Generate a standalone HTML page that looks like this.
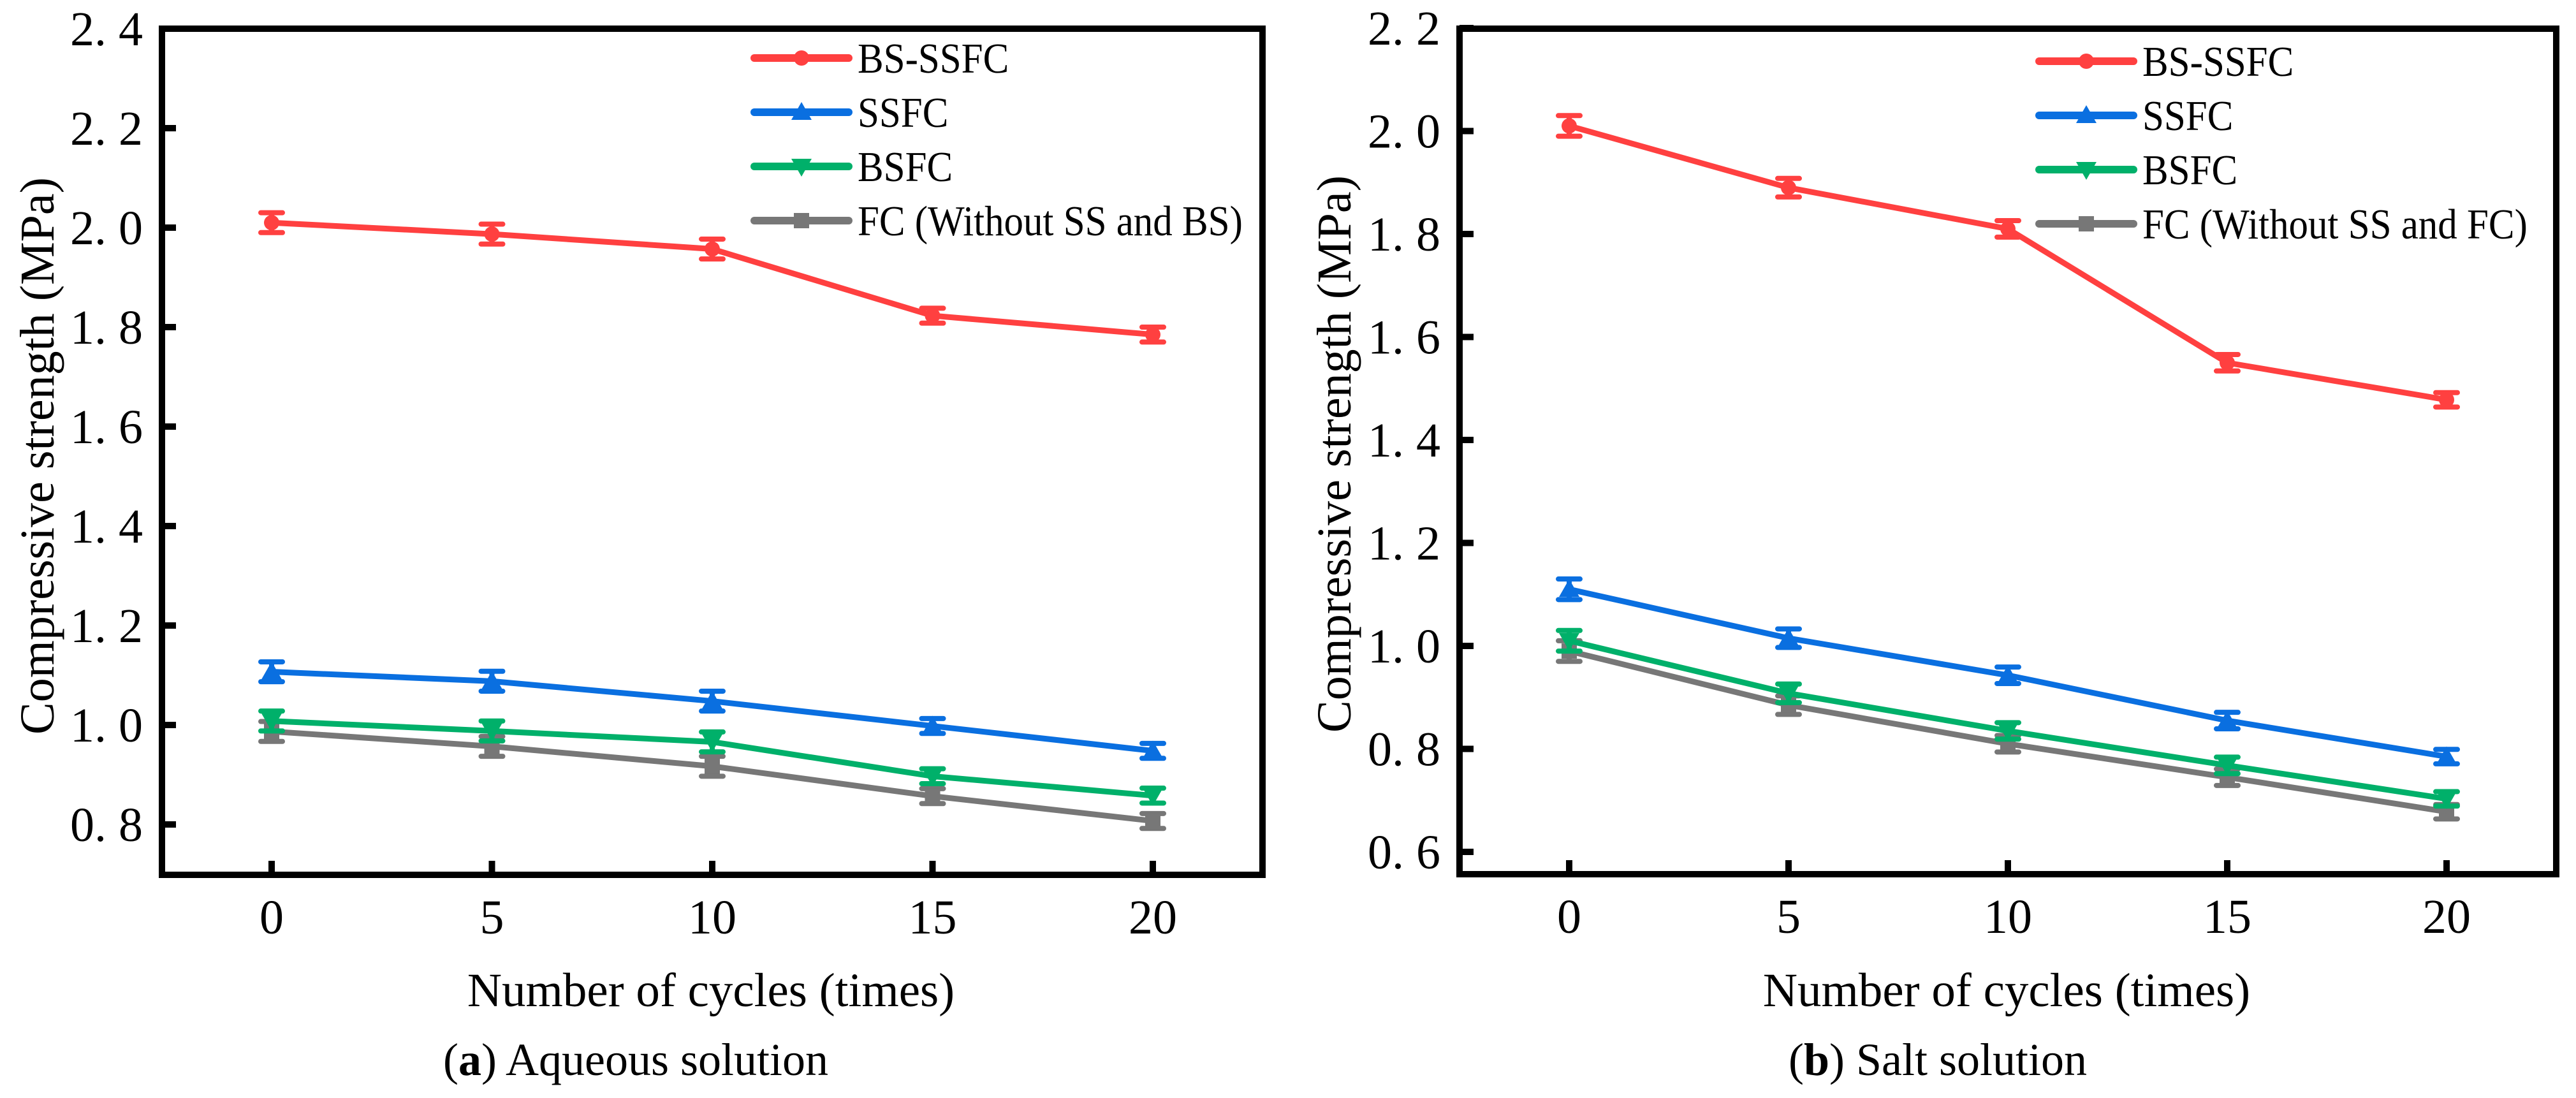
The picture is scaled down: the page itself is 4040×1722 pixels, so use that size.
<!DOCTYPE html>
<html><head><meta charset="utf-8"><style>
html,body{margin:0;padding:0;background:#fff;}
svg, svg text{font-family:"Liberation Serif","DejaVu Serif",serif;}
</style></head><body>
<svg id="fig" width="4040" height="1717" viewBox="0 0 4040 1717" xmlns="http://www.w3.org/2000/svg"></svg>
<script>
const cycles = [0, 5, 10, 15, 20];
const aBSSSFC = [2.01, 1.987, 1.957, 1.823, 1.785];
const aSSFC = [1.107, 1.088, 1.048, 0.998, 0.948];
const aBSFC = [1.008, 0.988, 0.966, 0.897, 0.858];
const aFC = [0.987, 0.957, 0.917, 0.857, 0.807];
const bBSSSFC = [2.01, 1.89, 1.81, 1.55, 1.478];
const bSSFC = [1.11, 1.015, 0.943, 0.855, 0.785];
const bBSFC = [1.01, 0.908, 0.835, 0.768, 0.703];
const bFC = [0.99, 0.885, 0.81, 0.745, 0.678];
const errA = [0.02, 0.02, 0.02, 0.015, 0.015];
const errB = [0.02, 0.018, 0.016, 0.016, 0.014];
const yTicksA = [0.8, 1.0, 1.2, 1.4, 1.6, 1.8, 2.0, 2.2, 2.4];
const yTicksB = [0.6, 0.8, 1.0, 1.2, 1.4, 1.6, 1.8, 2.0, 2.2];
const legendA = ["BS-SSFC", "SSFC", "BSFC", "FC (Without SS and BS)"];
const legendB = ["BS-SSFC", "SSFC", "BSFC", "FC  (Without SS and FC)"];

const NS = "http://www.w3.org/2000/svg";
const FONT = '"Liberation Serif", "DejaVu Serif", serif';
const svg = document.getElementById("fig");
const colors = ["#ff4040", "#0a6fe0", "#00b06a", "#777777"];
const markers = ["circle", "up", "down", "square"];

function mk(tag, attrs, parent) {
  const e = document.createElementNS(NS, tag);
  for (const k in attrs) e.setAttribute(k, attrs[k]);
  if (tag === "text") { e.setAttribute("font-family", FONT); e.style.fontFamily = FONT; }
  (parent || svg).appendChild(e);
  return e;
}

function marker(g, type, x, y, c) {
  let m;
  if (type === "circle") m = mk("circle", {cx: x, cy: y, r: 12, fill: c}, g);
  else if (type === "up") m = mk("polygon", {points: `${x},${y-16} ${x+16},${y+12} ${x-16},${y+12}`, fill: c}, g);
  else if (type === "down") m = mk("polygon", {points: `${x},${y+16} ${x+16},${y-12} ${x-16},${y-12}`, fill: c}, g);
  else m = mk("rect", {x: x-12, y: y-12, width: 24, height: 24, fill: c}, g);
  
  
}

function panel(p) {
  const g = mk("g", {});
  
  
  const X = v => p.x0 + v * p.kx;
  const Y = v => p.y0 - (v - p.v0) / 0.2 * p.ky;
  p.yTicks.forEach(t => {
    const tk = mk("line", {x1: p.L, x2: p.L + 22, y1: Y(t), y2: Y(t), stroke: "#000", "stroke-width": 10}, g);
    
    
    const tl = mk("text", {x: p.L - 30, y: Y(t) + 26, "font-size": 76, "text-anchor": "end"}, g);
    tl.textContent = t.toFixed(1).replace(".", ". ");
    
    
  });
  cycles.forEach(c => {
    const tk = mk("line", {x1: X(c), x2: X(c), y1: p.B, y2: p.B - 22, stroke: "#000", "stroke-width": 10}, g);
    
    
    const tl = mk("text", {x: X(c), y: p.B + 92, "font-size": 76, "text-anchor": "middle"}, g);
    tl.textContent = String(c);
    
    
  });
  for (let s = 3; s >= 0; s--) {
    const vals = p.series[s], c = colors[s];
    const sg = mk("g", {}, g);
    
    
    const pl = mk("polyline", {points: vals.map((v, i) => X(cycles[i]) + "," + Y(v)).join(" "), fill: "none", stroke: c, "stroke-width": 9, "stroke-linejoin": "round"}, sg);
    
    
    vals.forEach((v, i) => {
      const x = X(cycles[i]), e = p.err[i];
      const eb = mk("path", {d: `M${x},${Y(v+e)}V${Y(v-e)}M${x-17},${Y(v+e)}H${x+17}M${x-17},${Y(v-e)}H${x+17}`, stroke: c, "stroke-width": 8, "stroke-linecap": "round", fill: "none"}, sg);
      
      
      marker(sg, markers[s], x, Y(v), c);
    });
  }
  const fr = mk("rect", {x: p.L, y: p.T, width: p.R - p.L, height: p.B - p.T, fill: "none", stroke: "#000", "stroke-width": 10}, g);
  
  
  p.legend.forEach((name, i) => {
    const ly = p.legY + i * 85;
    const lg = mk("g", {}, g);
    
    
    mk("line", {x1: p.legX, x2: p.legX + 148, y1: ly, y2: ly, stroke: colors[i], "stroke-width": 12, "stroke-linecap": "round"}, lg);
    marker(lg, markers[i], p.legX + 74, ly, colors[i]);
    const t = mk("text", {x: 0, y: 0, "font-size": 67, transform: `translate(${p.legX + 162},${ly + 23}) scale(0.91,1)`}, lg);
    t.textContent = name;
  });
  const yt = mk("text", {x: 0, y: 0, "font-size": 76, "text-anchor": "middle", transform: `translate(${p.yTitleX},${p.yTitleY}) rotate(-90)`}, g);
  yt.textContent = "Compressive strength (MPa)";
  
  
  const xt = mk("text", {x: (p.L + p.R) / 2 - 2, y: 1578, "font-size": 75, "text-anchor": "middle"}, g);
  xt.textContent = "Number of cycles (times)";
  
  
  const cap = mk("text", {x: p.capX, y: 1686, "font-size": 72, "text-anchor": "middle"}, g);
  cap.innerHTML = `(<tspan font-weight="bold">${p.id}</tspan>) ${p.caption}`;
  
  
}

panel({id: "a", L: 254, R: 1980, T: 45, B: 1372, x0: 426, kx: 69.1, y0: 1293, v0: 0.8, ky: 156,
  yTicks: yTicksA, series: [aBSSSFC, aSSFC, aBSFC, aFC], err: errA, legend: legendA,
  legX: 1183, legY: 91, yTitleX: 84, yTitleY: 715, capX: 997, caption: "Aqueous solution"});
panel({id: "b", L: 2289, R: 4009, T: 45, B: 1371, x0: 2461, kx: 68.8, y0: 1336, v0: 0.6, ky: 161.5,
  yTicks: yTicksB, series: [bBSSSFC, bSSFC, bBSFC, bFC], err: errB, legend: legendB,
  legX: 3198, legY: 96, yTitleX: 2118, yTitleY: 712, capX: 3039, caption: "Salt solution"});
</script>
</body></html>
